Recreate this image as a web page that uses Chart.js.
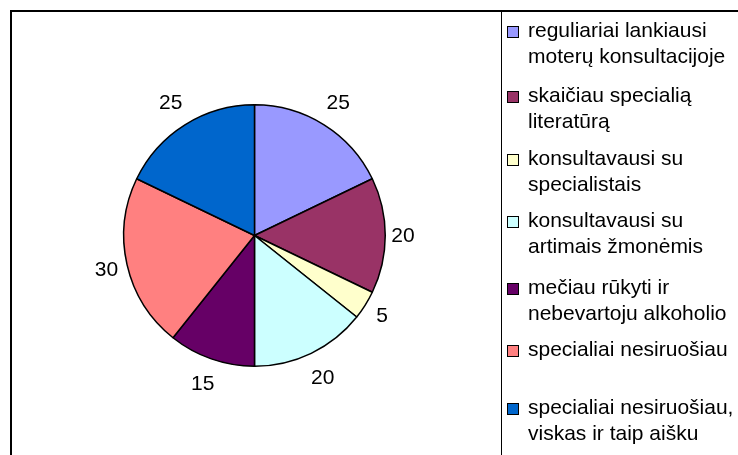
<!DOCTYPE html>
<html>
<head>
<meta charset="utf-8">
<script src="https://cdn.jsdelivr.net/npm/chart.js@4/dist/chart.umd.min.js"></script>
<style>
  html, body { margin: 0; padding: 0; background: #fff; overflow: hidden; }
  #wrap { position: relative; width: 738px; height: 455px; overflow: hidden; font-family: "Liberation Sans", Arial, sans-serif; }
  #frame { position: absolute; left: 10px; top: 10px; width: 800px; height: 500px; border-left: 2px solid #000; border-top: 2px solid #000; }
  #legendBox { position: absolute; left: 501px; top: 10px; width: 300px; height: 500px; border-left: 1.5px solid #000; }
  canvas#pie { position: absolute; left: 0; top: 0; }
  .leg-item { position: absolute; left: 507px; font-size: 21px; line-height: 26px; color: #000; white-space: nowrap; }
  .leg-box { position: absolute; left: 0; top: 9px; width: 10px; height: 10px; border: 1px solid #000; }
  .leg-text { position: absolute; left: 21px; top: 0; }
</style>
</head>
<body>
<div id="wrap">
  <div id="frame"></div>
  <div id="legendBox"></div>
  <canvas id="pie" width="738" height="455"></canvas>
  <div id="legend"></div>
</div>
<script>
const categorijos = [
  ["reguliariai lankiausi", "moterų konsultacijoje"],
  ["skaičiau specialią", "literatūrą"],
  ["konsultavausi su", "specialistais"],
  ["konsultavausi su", "artimais žmonėmis"],
  ["mečiau rūkyti ir", "nebevartoju alkoholio"],
  ["specialiai nesiruošiau"],
  ["specialiai nesiruošiau,", "viskas ir taip aišku"]
];
const reiksmes = [25, 20, 5, 20, 15, 30, 25];
const spalvos = ["#9999FF", "#993366", "#FFFFCC", "#CCFFFF", "#660066", "#FF8080", "#0066CC"];

// legendos eilučių viršus (px)
const legendTop = [17, 82, 145, 207, 274, 336, 394];

const etiketes = {
  id: "etiketes",
  afterDatasetsDraw(chart) {
    const ctx = chart.ctx;
    const meta = chart.getDatasetMeta(0);
    ctx.save();
    ctx.font = "21px 'Liberation Sans', Arial, sans-serif";
    ctx.fillStyle = "#000";
    ctx.textAlign = "center";
    ctx.textBaseline = "middle";
    meta.data.forEach((arc, i) => {
      const p = arc.getProps(["x", "y", "startAngle", "endAngle", "outerRadius"], true);
      const mid = (p.startAngle + p.endAngle) / 2;
      const ux = Math.cos(mid), uy = Math.sin(mid);
      const txt = String(reiksmes[i]);
      const w = ctx.measureText(txt).width;
      const dist = p.outerRadius + 6 + Math.abs(ux) * w / 2 + Math.abs(uy) * 17;
      ctx.fillText(txt, p.x + ux * dist, p.y + uy * dist + 1);
    });
    ctx.restore();
  }
};

const chart = new Chart(document.getElementById("pie"), {
  type: "pie",
  data: {
    labels: categorijos,
    datasets: [{
      data: reiksmes,
      backgroundColor: spalvos,
      borderColor: "#000",
      borderWidth: 1.5
    }]
  },
  options: {
    responsive: false,
    animation: false,
    layout: { padding: { left: 123, right: 352, top: 104, bottom: 88 } },
    plugins: {
      legend: { display: false },
      tooltip: { enabled: false }
    }
  },
  plugins: [etiketes]
});

// legenda
const elLegend = document.getElementById("legend");
chart.data.labels.forEach((lab, i) => {
  const item = document.createElement("div");
  item.className = "leg-item";
  item.style.top = legendTop[i] + "px";
  const box = document.createElement("div");
  box.className = "leg-box";
  box.style.background = chart.data.datasets[0].backgroundColor[i];
  const text = document.createElement("div");
  text.className = "leg-text";
  text.innerHTML = lab.join("<br>");
  item.appendChild(box);
  item.appendChild(text);
  elLegend.appendChild(item);
});
</script>
</body>
</html>
